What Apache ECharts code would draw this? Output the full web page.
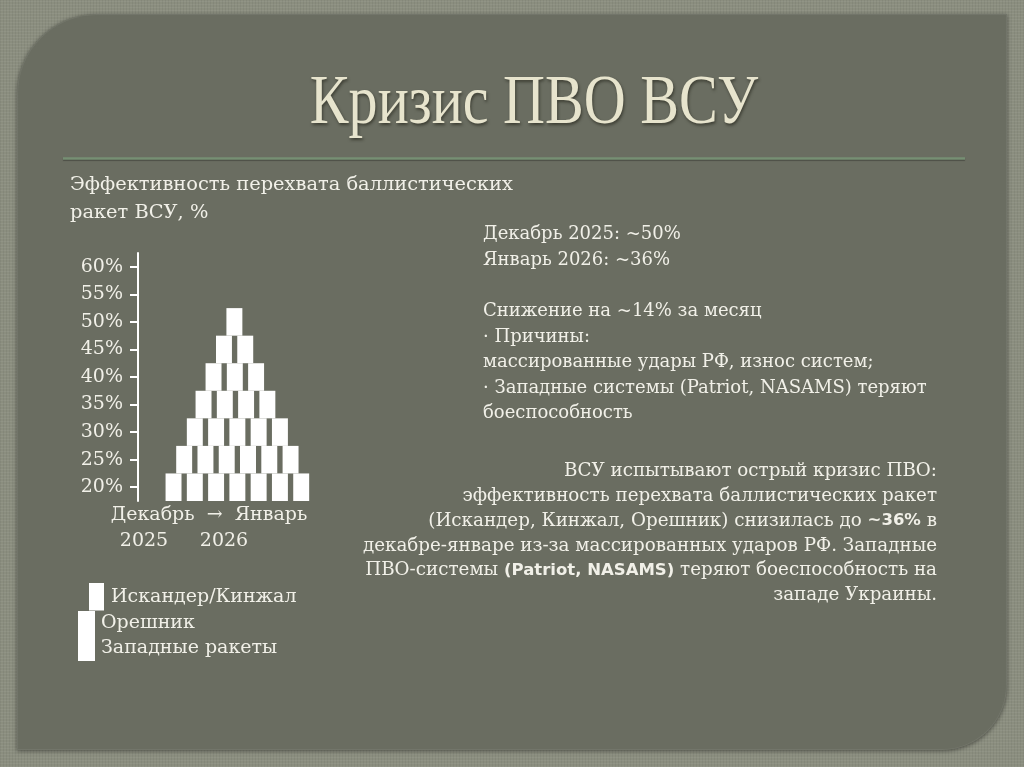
<!DOCTYPE html>
<html>
<head>
<meta charset="utf-8">
<script src="https://cdn.jsdelivr.net/npm/echarts@6/dist/echarts.min.js"></script>
<style>
html,body{margin:0;padding:0;background:#8b8e7f;width:1024px;height:767px;overflow:hidden;}
#outer{position:absolute;left:0;top:0;width:1024px;height:767px;
  background-color:#8b8e7f;
  background-image:repeating-linear-gradient(0deg,rgba(255,255,255,0.05) 0 1px,transparent 1px 3px),repeating-linear-gradient(90deg,rgba(0,0,0,0.05) 0 1px,transparent 1px 3px);}
#panel{position:absolute;left:17px;top:14px;width:990px;height:736px;background:#6a6d61;
  border-radius:80px 0 65px 0;box-shadow:0 1px 4px rgba(0,0,0,0.45), inset 0 0 0 1px rgba(255,255,255,0.06);}
#c{position:absolute;left:0;top:0;width:1024px;height:767px;}
</style>
</head>
<body>
<div id="outer"></div>
<div id="panel"></div>
<div id="c"></div>
<script>
// ---- data ----
const yTicks = [20, 25, 30, 35, 40, 45, 50, 55, 60];
const rowBottoms = [17.5, 22.5, 27.5, 32.5, 37.5, 42.5, 47.5];
const rowTops    = [22.5, 27.5, 32.5, 37.5, 42.5, 47.5, 52.5];
const rowCenters = [
  [0, 1, 2, 3, 4, 5, 6],
  [0.5, 1.5, 2.5, 3.5, 4.5, 5.5],
  [1, 2, 3, 4, 5],
  [1.41, 2.41, 3.41, 4.41],
  [1.88, 2.88, 3.88],
  [2.37, 3.37],
  [2.86]
];
const seriesNames = ['Искандер/Кинжал', 'Орешник', 'Западные ракеты'];
const seriesRows  = [[4, 5, 6], [2, 3], [0, 1]];
const titleText = 'Кризис ПВО ВСУ';
const captionLines = ['Эффективность перехвата баллистических', 'ракет ВСУ, %'];
const axisCaption = ['Декабрь  →  Январь', '2025', '2026'];
const statLines = [
  'Декабрь 2025: ~50%',
  'Январь 2026: ~36%',
  '',
  'Снижение на ~14% за месяц',
  '· Причины:',
  'массированные удары РФ, износ систем;',
  '· Западные системы (Patriot, NASAMS) теряют',
  'боеспособность'
];
const summaryLines = [
  'ВСУ испытывают острый кризис ПВО:',
  'эффективность перехвата баллистических ракет',
  '(Искандер, Кинжал, Орешник) снизилась до {b|~36%} в',
  'декабре-январе из-за массированных ударов РФ. Западные',
  'ПВО-системы {b|(Patriot, NASAMS)} теряют боеспособность на',
  'западе Украины.'
];

// ---- build ----
const TXT = '#f1f0e8';
const SERIF = 'DejaVu Serif';
const BW = 0.75;

function blocksFor(rows) {
  const out = [];
  rows.forEach(function (r) {
    rowCenters[r].forEach(function (cx) {
      out.push([cx, rowBottoms[r], rowTops[r]]);
    });
  });
  return out;
}

function renderBlock(params, api) {
  const x = api.value(0), y0 = api.value(1), y1 = api.value(2);
  const a = api.coord([x - BW / 2, y1]);
  const b = api.coord([x + BW / 2, y0]);
  return {
    type: 'rect',
    shape: { x: a[0], y: a[1], width: b[0] - a[0], height: b[1] - a[1] },
    style: api.style()
  };
}

const series = seriesNames.map(function (name, i) {
  return {
    type: 'custom',
    name: name,
    renderItem: renderBlock,
    encode: { x: 0, y: [1, 2] },
    itemStyle: { color: '#ffffff' },
    data: blocksFor(seriesRows[i]),
    silent: true
  };
});

const graphics = [];
// title
graphics.push({
  type: 'text', x: 534, y: 105, scaleX: 0.83,
  style: {
    text: titleText, fill: '#e7e4cd', font: '70px "Liberation Serif"',
    textAlign: 'center', textVerticalAlign: 'middle',
    textShadowColor: 'rgba(30,30,20,0.6)', textShadowBlur: 3, textShadowOffsetX: 1, textShadowOffsetY: 2
  }
});
// rule line
graphics.push({
  type: 'line', shape: { x1: 63, y1: 158.5, x2: 965, y2: 158.5 },
  style: { stroke: '#768f73', lineWidth: 2.5, shadowColor: 'rgba(0,0,0,0.35)', shadowBlur: 1, shadowOffsetY: 1 }
});
// caption
captionLines.forEach(function (t, i) {
  graphics.push({
    type: 'text', x: 70, y: 185 + i * 28,
    style: { text: t, fill: TXT, font: '19.4px "' + SERIF + '"', textAlign: 'left', textVerticalAlign: 'middle' }
  });
});
// axis caption
graphics.push({ type: 'text', x: 209, y: 515, style: { text: axisCaption[0], fill: TXT, font: '19px "' + SERIF + '"', textAlign: 'center', textVerticalAlign: 'middle' } });
graphics.push({ type: 'text', x: 144, y: 541, style: { text: axisCaption[1], fill: TXT, font: '19px "' + SERIF + '"', textAlign: 'center', textVerticalAlign: 'middle' } });
graphics.push({ type: 'text', x: 224, y: 541, style: { text: axisCaption[2], fill: TXT, font: '19px "' + SERIF + '"', textAlign: 'center', textVerticalAlign: 'middle' } });
// stats block
statLines.forEach(function (t, i) {
  if (!t) return;
  graphics.push({
    type: 'text', x: 483, y: 234.5 + i * 25.6,
    style: { text: t, fill: TXT, font: '18px "' + SERIF + '"', textAlign: 'left', textVerticalAlign: 'middle' }
  });
});
// summary block (right aligned)
summaryLines.forEach(function (t, i) {
  graphics.push({
    type: 'text', x: 937, y: 471.5 + i * 24.8,
    style: {
      text: t, fill: TXT, font: '18.3px "' + SERIF + '"', textAlign: 'right', textVerticalAlign: 'middle',
      rich: { b: { fontFamily: 'DejaVu Sans', fontWeight: 'bold', fontSize: 16.5, fill: TXT } }
    }
  });
});

const chart = echarts.init(document.getElementById('c'));
chart.setOption({
  backgroundColor: 'transparent',
  animation: false,
  grid: { left: 138, top: 253, width: 191.5, height: 248 },
  xAxis: { type: 'value', min: -1.67, max: 7.33, show: false },
  yAxis: {
    type: 'value', min: 17.5, max: 62.5, position: 'left',
    axisLine: { show: true, onZero: false, lineStyle: { color: '#ffffff', width: 2 } },
    axisTick: { show: true, length: 8, lineStyle: { color: '#ffffff', width: 2 }, customValues: yTicks },
    axisLabel: { show: true, margin: 15, color: TXT, fontFamily: SERIF, fontSize: 19, formatter: '{value}%', customValues: yTicks },
    splitLine: { show: false }
  },
  legend: [
    {
      data: [seriesNames[0]], left: 89, top: 583, padding: 0, itemWidth: 15, itemHeight: 27.5, itemGap: 0,
      icon: 'rect', selectedMode: false, textStyle: { color: TXT, fontFamily: SERIF, fontSize: 19, padding: [0, 0, 0, 2] }
    },
    {
      data: [seriesNames[1], seriesNames[2]], left: 78, top: 611, orient: 'vertical', padding: 0,
      itemWidth: 17, itemHeight: 25, itemGap: 0, icon: 'rect', selectedMode: false,
      textStyle: { color: TXT, fontFamily: SERIF, fontSize: 19, padding: [0, 0, 0, 1] }
    }
  ],
  graphic: graphics,
  series: series
});
</script>
</body>
</html>
